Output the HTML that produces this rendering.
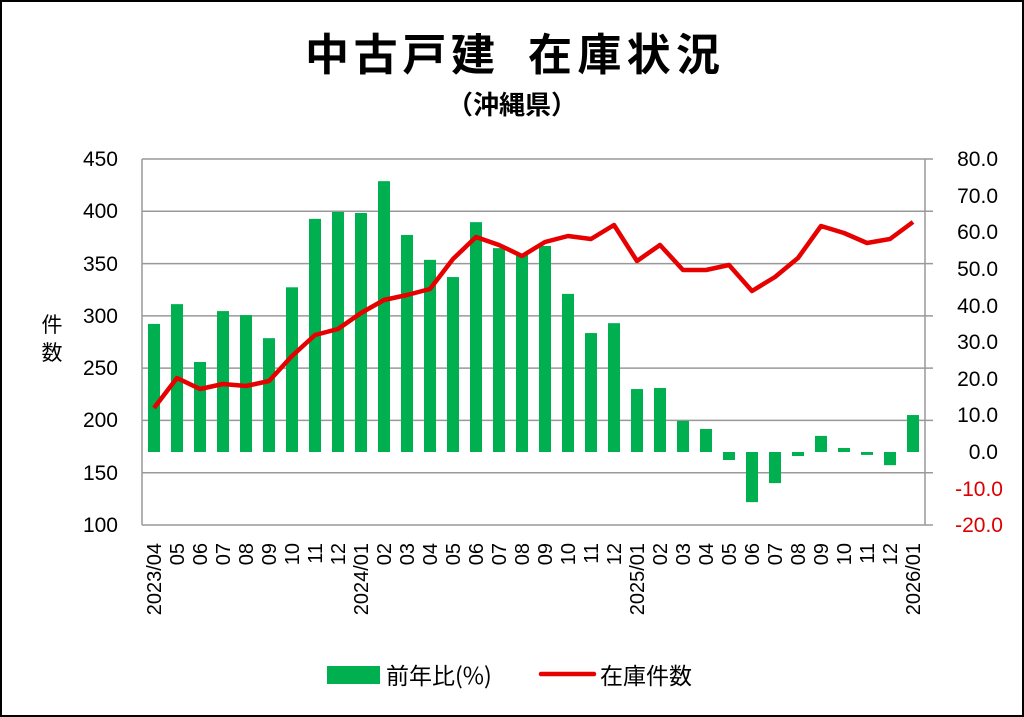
<!DOCTYPE html>
<html><head><meta charset="utf-8"><style>
html,body{margin:0;padding:0;background:#fff}
svg{display:block}
text{font-family:"Liberation Sans","Noto Sans CJK JP",sans-serif}
</style></head><body>
<svg width="1024" height="717" viewBox="0 0 1024 717" xmlns="http://www.w3.org/2000/svg">
<rect x="1" y="1" width="1022" height="715" fill="#fff" stroke="#000" stroke-width="2"/>
<text x="305" y="70" font-size="44" font-weight="bold" textLength="190" style="font-family:'Noto Sans CJK JP',sans-serif">中古戸建</text>
<text x="528" y="70" font-size="44" font-weight="bold" textLength="192" style="font-family:'Noto Sans CJK JP',sans-serif">在庫状況</text>
<text x="512" y="114" text-anchor="middle" font-size="26" font-weight="bold" style="font-family:'Noto Sans CJK JP',sans-serif">（沖縄県）</text>
<g stroke="#999" stroke-width="1.5">
<line x1="142" y1="159" x2="933" y2="159"/>
<line x1="142" y1="211.3" x2="933" y2="211.3"/>
<line x1="142" y1="263.6" x2="933" y2="263.6"/>
<line x1="142" y1="315.9" x2="933" y2="315.9"/>
<line x1="142" y1="368.1" x2="933" y2="368.1"/>
<line x1="142" y1="420.4" x2="933" y2="420.4"/>
<line x1="142" y1="472.7" x2="933" y2="472.7"/>
<line x1="142" y1="525" x2="933" y2="525"/>
<line x1="142" y1="159" x2="142" y2="525"/>
<line x1="925" y1="159" x2="925" y2="525"/>
</g>
<g font-size="21" text-anchor="end" fill="#000">
<text x="118" y="166">450</text><text x="118" y="218">400</text><text x="118" y="271">350</text><text x="118" y="323">300</text><text x="118" y="375">250</text><text x="118" y="427">200</text><text x="118" y="480">150</text><text x="118" y="532">100</text>
</g>
<g font-size="21" text-anchor="end" fill="#000">
<text x="998" y="166">80.0</text><text x="998" y="203">70.0</text><text x="998" y="239">60.0</text><text x="998" y="276">50.0</text><text x="998" y="313">40.0</text><text x="998" y="349">30.0</text><text x="998" y="386">20.0</text><text x="998" y="422">10.0</text><text x="998" y="459">0.0</text>
<text x="1003" y="496" fill="#d00">-10.0</text><text x="1003" y="532" fill="#d00">-20.0</text>
</g>
<text x="52" y="332" font-size="21" text-anchor="middle" style="font-family:'Noto Sans CJK JP',sans-serif">件</text>
<text x="52" y="360" font-size="21" text-anchor="middle" style="font-family:'Noto Sans CJK JP',sans-serif">数</text>
<g fill="#00b050" id="bars"></g>
<polyline id="line" fill="none" stroke="#e60000" stroke-width="4.5" stroke-linejoin="round"/>
<g id="xl" font-size="20"></g>
<rect x="327" y="666" width="53" height="18" fill="#00b050"/>
<text x="386" y="684" font-size="23" style="font-family:'Noto Sans CJK JP',sans-serif">前年比(%)</text>
<line x1="541" y1="674" x2="594" y2="674" stroke="#e60000" stroke-width="4.5" stroke-linecap="round"/>
<text x="600" y="684" font-size="23" style="font-family:'Noto Sans CJK JP',sans-serif">在庫件数</text>
</svg>
<script>
var b=[35,40.4,24.6,38.5,37.4,31.1,45,63.7,65.6,65.3,74,59.3,52.5,47.8,62.8,55.7,54,56.3,43.2,32.5,35.2,17.2,17.5,8.5,6.3,-2.2,-13.7,-8.5,-1.1,4.4,1.1,-0.8,-3.6,10.1];
var l=[408,378,389,384,386,381,356,335,329,313,300,295,289,259,237,245,256,242,236,239,225,261,245,270,270,265,291,277,258,226,233,243,239,222];
var lab=["2023/04","05","06","07","08","09","10","11","12","2024/01","02","03","04","05","06","07","08","09","10","11","12","2025/01","02","03","04","05","06","07","08","09","10","11","12","2026/01"];
var ns="http://www.w3.org/2000/svg",g=document.getElementById("bars"),xl=document.getElementById("xl"),pts=[];
for(var i=0;i<34;i++){var cx=154+i*23.0;var y0=452,y1=452-b[i]*3.66;
var r=document.createElementNS(ns,"rect");r.setAttribute("x",cx-6);r.setAttribute("width",12);r.setAttribute("y",Math.min(y0,y1));r.setAttribute("height",Math.abs(y1-y0));g.appendChild(r);
pts.push(cx+","+l[i]);
var t=document.createElementNS(ns,"text");t.setAttribute("transform","translate("+(cx+7)+",543) rotate(-90)");t.setAttribute("text-anchor","end");t.textContent=lab[i];xl.appendChild(t);}
document.getElementById("line").setAttribute("points",pts.join(" "));
</script>
</body></html>
